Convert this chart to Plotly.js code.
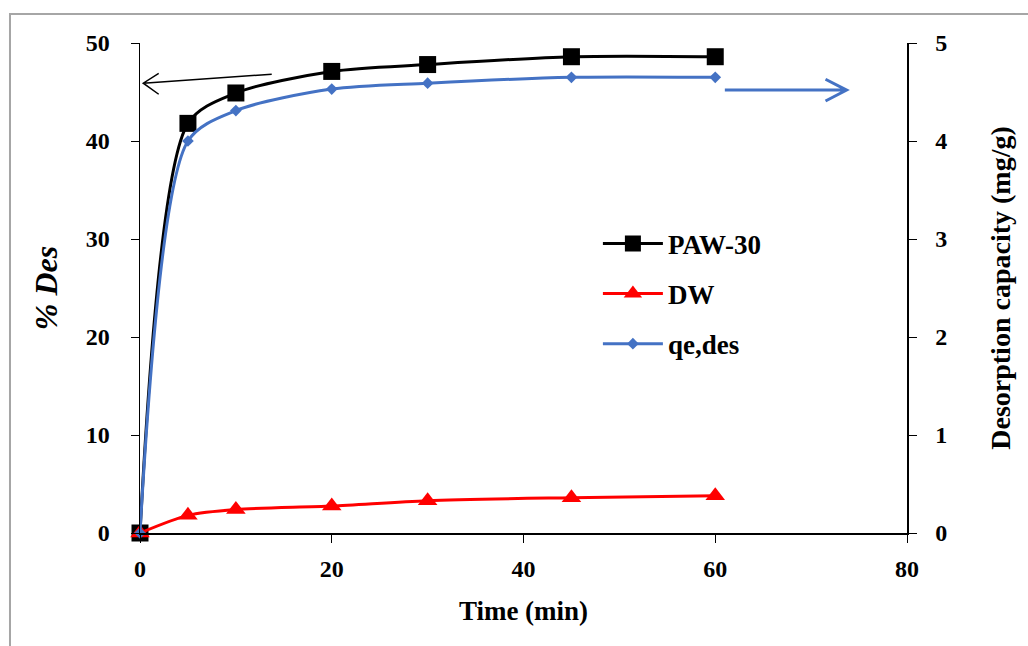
<!DOCTYPE html>
<html><head><meta charset="utf-8">
<script src="https://cdn.plot.ly/plotly-3.0.1.min.js"></script>
<style>html,body{margin:0;padding:0;background:#fff}#g{width:1028px;height:646px}</style>
</head><body><div id="g"></div>
<script>
const time = [0, 5, 10, 20, 30, 45, 60];
const paw30 = [0, 41.8, 44.9, 47.1, 47.8, 48.6, 48.6];
const dw = [0, 1.8, 2.4, 2.75, 3.3, 3.6, 3.8];
const qeDes = [0, 4.0, 4.31, 4.53, 4.59, 4.65, 4.65];
const xTicks = [0, 20, 40, 60, 80];

const F = "Liberation Serif, Times New Roman, serif";
const tf = {family: F, size: 24, color: '#000', weight: 'bold'};
const ttf = {family: F, size: 27, color: '#000', weight: 'bold'};

const traces = [
  {x: time, y: paw30, name: 'PAW-30', mode: 'lines+markers', legendgroup: 'a',
   line: {color: '#000', width: 3, shape: 'spline', smoothing: 0.8},
   marker: {symbol: 'square', size: 17, color: '#000'}, cliponaxis: false},
  {x: time, y: dw, name: 'DW', mode: 'lines+markers', legendgroup: 'b',
   line: {color: '#ff0000', width: 3, shape: 'spline', smoothing: 0.8},
   marker: {symbol: 'triangle-up', size: 17, color: '#ff0000'}, cliponaxis: false},
  {x: time, y: qeDes, name: 'qe,des', mode: 'lines+markers', yaxis: 'y2', legendgroup: 'c',
   line: {color: '#4472c4', width: 3, shape: 'spline', smoothing: 0.8},
   marker: {symbol: 'diamond', size: 9, color: '#4472c4'}, cliponaxis: false}
];

const layout = {
  width: 1028, height: 646,
  margin: {l: 140, r: 121, t: 43, b: 113},
  paper_bgcolor: '#fff', plot_bgcolor: '#fff',
  showlegend: true,
  legend: {x: 0.597, y: 0.64, xanchor: 'left', yanchor: 'top',
           font: {family: F, size: 27, color: '#000', weight: 'bold'},
           itemwidth: 60, tracegroupgap: 12, traceorder: 'grouped', bgcolor: 'rgba(0,0,0,0)'},
  xaxis: {range: [0, 80], tickvals: xTicks, showline: true, linecolor: '#000', linewidth: 1.5,
          ticks: 'outside', ticklen: 8, tickcolor: '#000', showgrid: false, zeroline: false,
          ticklabelstandoff: 6,
          tickfont: tf, title: {text: 'Time (min)', font: ttf, standoff: 20}},
  yaxis: {range: [0, 50], dtick: 10, showline: true, linecolor: '#000', linewidth: 1.5,
          ticks: 'outside', ticklen: 8, tickcolor: '#000', showgrid: false, zeroline: false,
          ticklabelstandoff: 16,
          tickfont: tf, title: {text: '% Des', font: {family: F, size: 32, color: '#000', weight: 'bold', style: 'italic'}, standoff: 18}},
  yaxis2: {range: [0, 5], dtick: 1, overlaying: 'y', side: 'right', showline: true, linecolor: '#000', linewidth: 1.5,
          ticks: 'outside', ticklen: 8, tickcolor: '#000', showgrid: false, zeroline: false,
          ticklabelstandoff: 14,
          tickfont: tf, title: {text: 'Desorption capacity (mg/g)', font: {family: F, size: 28, color: '#000', weight: 'bold'}, standoff: 44}},
  shapes: [
    {type: 'rect', xref: 'paper', yref: 'paper', x0: -0.1695, x1: 1.2, y0: -0.3, y1: 1.059,
     line: {color: '#a6a6a6', width: 2}, layer: 'below'},
    {type: 'path', xref: 'x', yref: 'y', path: 'M 13.74 46.82 L 0.34 45.9 M 1.95 46.9 L 0.34 45.9 L 1.95 44.77',
     line: {color: '#000', width: 1.5}},
    {type: 'path', xref: 'x', yref: 'y', path: 'M 61.0 45.2 L 73.7 45.2 M 71.5 46.3 L 73.7 45.2 L 71.5 44.08',
     line: {color: '#4472c4', width: 3}}
  ]
};

Plotly.newPlot('g', traces, layout, {displayModeBar: false, staticPlot: true});
</script></body></html>
